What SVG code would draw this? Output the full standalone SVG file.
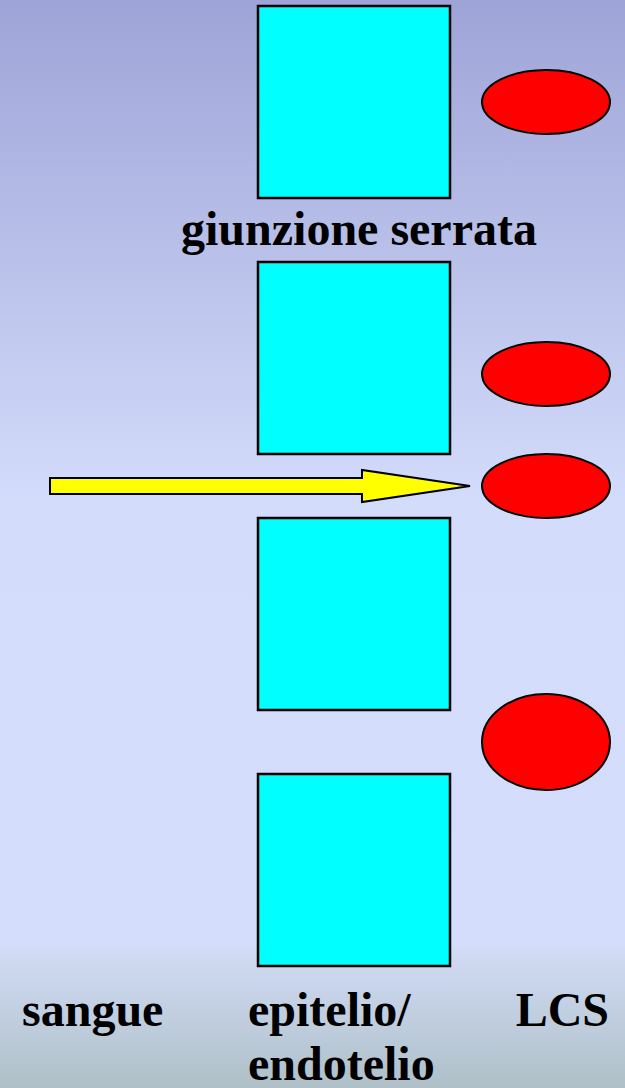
<svg xmlns="http://www.w3.org/2000/svg" width="625" height="1088" viewBox="0 0 625 1088">
<defs>
<linearGradient id="bgTop" x1="0" y1="0" x2="0" y2="1">
<stop offset="0" stop-color="#9ea4d7"/>
<stop offset="0.53" stop-color="#d3dcfb"/>
<stop offset="1" stop-color="#d4defc"/>
</linearGradient>
<linearGradient id="bgBot" x1="0" y1="0" x2="0" y2="1">
<stop offset="0" stop-color="#d2dcf6"/>
<stop offset="1" stop-color="#afc0c8"/>
</linearGradient>
<style>
.cell{fill:#00ffff;stroke:#000;stroke-width:2.5}
.prot{fill:#ff0000;stroke:#000;stroke-width:2}
.lbl{font-family:'Liberation Serif','Times New Roman',serif;font-weight:bold;font-size:48px;fill:#000}
.arrow{fill:#ffff00;stroke:#000;stroke-width:2;stroke-linejoin:miter}
</style>
</defs>
<rect x="0" y="0" width="625" height="947" fill="url(#bgTop)"/>
<rect x="0" y="947" width="625" height="141" fill="url(#bgBot)"/>
<g id="cell1"><rect class="cell" x="258" y="6" width="192" height="192"/></g>
<g id="cell2"><rect class="cell" x="258" y="262" width="192" height="192"/></g>
<g id="cell3"><rect class="cell" x="258" y="518" width="192" height="192"/></g>
<g id="cell4"><rect class="cell" x="258" y="774" width="192" height="192"/></g>
<g id="prot1"><ellipse class="prot" cx="546" cy="102" rx="64" ry="32"/></g>
<g id="prot2"><ellipse class="prot" cx="546" cy="374" rx="64" ry="32"/></g>
<g id="prot3"><ellipse class="prot" cx="546" cy="486" rx="64" ry="32"/></g>
<g id="prot4"><ellipse class="prot" cx="546" cy="742" rx="64" ry="48"/></g>
<g id="connectors">
<polygon class="arrow" points="50,478 362,478 362,470 470,486 362,502 362,494 50,494"/>
</g>
<g id="labels">
<text class="lbl" x="359" y="245" text-anchor="middle">giunzione serrata</text>
<text class="lbl" x="22" y="1026">sangue</text>
<text class="lbl" x="248" y="1026">epitelio/</text>
<text class="lbl" x="609" y="1026" text-anchor="end">LCS</text>
<text class="lbl" x="248" y="1080">endotelio</text>
</g>
</svg>
